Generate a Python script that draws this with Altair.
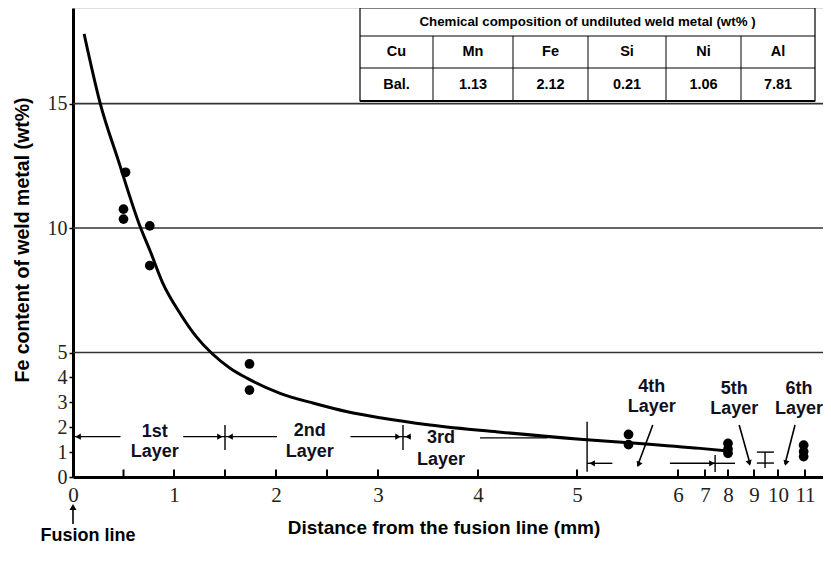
import altair as alt
import pandas as pd

# ---------------- data ----------------
pt_x = [0.52, 0.50, 0.50, 0.76, 0.76, 1.74, 1.74, 5.51, 5.51, 8.0, 8.0, 8.0, 10.95, 10.95, 10.95]
pt_y = [12.24, 10.76, 10.36, 10.09, 8.49, 4.54, 3.49, 1.71, 1.30, 1.35, 1.12, 0.95, 1.28, 1.02, 0.82]

curve_x = [0.11, 0.27, 0.45, 0.67, 0.76, 0.89, 1.06, 1.22, 1.37, 1.55, 1.72, 2.04, 2.37,
           2.70, 3.02, 3.52, 4.23, 5.03, 5.62, 6.82, 8.0]
curve_y = [17.8, 15.0, 12.7, 10.0, 9.12, 7.78, 6.57, 5.63, 4.97, 4.37, 3.96, 3.36, 2.96,
           2.62, 2.38, 2.09, 1.80, 1.52, 1.35, 1.15, 1.04]

x_tick_values = [0, 1, 2, 3, 4, 5, 6, 7, 8, 9, 10, 11]
x_tick_marks = [0.5, 1, 1.5, 2, 2.5, 3, 4, 5, 6, 7, 8, 9, 10, 11]
y_tick_values = [0, 1, 2, 3, 4, 5, 10, 15]
grid_values = [5, 10, 15]

table_title = "Chemical composition of undiluted weld metal (wt% )"
elements = ["Cu", "Mn", "Fe", "Si", "Ni", "Al"]
contents = ["Bal.", "1.13", "2.12", "0.21", "1.06", "7.81"]

layer_names = ["1st", "2nd", "3rd", "4th", "5th", "6th"]

# ---------------- scales / axes ----------------
W, H = 750, 469
xscale = alt.Scale(domain=[0, 1, 2, 3, 4, 5, 6, 7, 8, 9, 10, 11, 12],
                   range=[0, 101, 203, 305, 405, 504, 605, 632, 655, 681, 705, 732, 750],
                   nice=False, zero=False)
yscale = alt.Scale(domain=[0, 18.84], nice=False, zero=False)

xaxis = alt.Axis(values=x_tick_values, title=None, ticks=False, grid=False,
                 domainWidth=3, domainColor="black", labelFont="Liberation Serif",
                 labelFontSize=21, labelColor="#222", labelPadding=7,
                 labelFlush=False, labelOverlap=False)
yaxis = alt.Axis(values=y_tick_values, title=None, grid=False, tickSize=4, tickWidth=1.5,
                 tickColor="black", domainWidth=3, domainColor="black",
                 labelFont="Liberation Serif", labelFontSize=20, labelColor="#222",
                 labelPadding=2, labelOverlap=False, labelFlush=False)


def X(f):
    return alt.X(f, type="quantitative", scale=xscale, axis=xaxis)


def Y(f):
    return alt.Y(f, type="quantitative", scale=yscale, axis=yaxis)


layers = []

# grid lines
layers.append(alt.Chart(pd.DataFrame({"g": grid_values})).mark_rule(
    color="#333", strokeWidth=1.6).encode(y=Y("g")))

# tick marks pointing inwards
layers.append(alt.Chart(pd.DataFrame({"t": x_tick_marks, "y0": [0] * len(x_tick_marks),
                                      "y1": [0.3] * len(x_tick_marks)})).mark_rule(
    color="black", strokeWidth=2).encode(x=X("t"), y=Y("y0"), y2="y1"))

# fitted curve
layers.append(alt.Chart(pd.DataFrame({"x": curve_x, "y": curve_y})).mark_line(
    color="black", strokeWidth=3, interpolate="monotone").encode(x=X("x"), y=Y("y")))

# measured points
layers.append(alt.Chart(pd.DataFrame({"x": pt_x, "y": pt_y})).mark_point(
    filled=True, color="black", size=95, opacity=1).encode(x=X("x"), y=Y("y")))

# ---------------- layer annotations ----------------
hseg = pd.DataFrame({
    "x": [0, 1.09, 1.5, 2.73, 3.25, 4.02, 5.1, 5.92, 7.44, 9.12, 9.12],
    "x2": [0.47, 1.5, 2.01, 3.25, 3.33, 4.7, 5.35, 7.44, 8.27, 9.83, 9.83],
    "y": [1.62, 1.62, 1.62, 1.62, 1.62, 1.57, 0.55, 0.55, 0.55, 1.0, 0.56],
})
layers.append(alt.Chart(hseg).mark_rule(color="black", strokeWidth=1.4).encode(
    x=X("x"), x2="x2", y=Y("y")))

vseg = pd.DataFrame({
    "x": [1.5, 3.25, 5.1, 7.44, 9.46],
    "y": [1.08, 1.08, 0.21, 0.2, 0.36],
    "y2": [2.09, 2.09, 2.22, 0.88, 1.0],
})
layers.append(alt.Chart(vseg).mark_rule(color="black", strokeWidth=1.4).encode(
    x=X("x"), y=Y("y"), y2="y2"))

dseg = pd.DataFrame({
    "x": [5.75, 8.43, 10.63], "y": [2.09, 2.09, 2.09],
    "x2": [5.6, 8.85, 10.26], "y2": [0.45, 0.52, 0.52],
})
layers.append(alt.Chart(dseg).mark_rule(color="black", strokeWidth=1.6).encode(
    x=X("x"), y=Y("y"), x2="x2", y2="y2"))

heads = pd.DataFrame({
    "x": [0.05, 1.45, 1.55, 3.20, 3.30, 5.15, 7.30, 5.61, 8.82, 10.29],
    "y": [1.62, 1.62, 1.62, 1.62, 1.62, 0.55, 0.55, 0.50, 0.56, 0.56],
    "a": [270, 90, 270, 90, 270, 270, 90, 201, 165, 194],
})
layers.append(alt.Chart(heads).mark_point(
    shape="triangle-up", filled=True, color="black", size=40, opacity=1).encode(
    x=X("x"), y=Y("y"), angle=alt.Angle("a:Q", scale=None)))

lab = pd.DataFrame({
    "x": [0.81, 0.81, 2.33, 2.33, 3.63, 3.63, 5.74, 5.74, 8.24, 8.24, 10.78, 10.78],
    "y": [1.81, 1.0, 1.86, 1.02, 1.57, 0.68, 3.61, 2.81, 3.53, 2.73, 3.53, 2.73],
    "t": [v for n in layer_names for v in (n, "Layer")],
})
layers.append(alt.Chart(lab).mark_text(
    font="Liberation Sans", fontWeight="bold", fontSize=18, color="#10101e",
    baseline="middle").encode(x=X("x"), y=Y("y"), text="t:N"))

# ---------------- axis titles & fusion line ----------------
one = pd.DataFrame({"a": [0]})
layers.append(alt.Chart(one).mark_text(
    text="Fe content of weld metal (wt%)", angle=270, font="Liberation Sans",
    fontWeight="bold", fontSize=19.5, color="black", baseline="middle").encode(
    x=alt.value(-50), y=alt.value(232)))
layers.append(alt.Chart(one).mark_text(
    text="Distance from the fusion line (mm)", font="Liberation Sans",
    fontWeight="bold", fontSize=19, color="black", baseline="middle").encode(
    x=alt.value(371), y=alt.value(520)))
layers.append(alt.Chart(one).mark_text(
    text="Fusion line", font="Liberation Sans", fontWeight="bold", fontSize=18,
    color="black", baseline="middle").encode(x=alt.value(15), y=alt.value(528)))
layers.append(alt.Chart(one).mark_rule(color="black", strokeWidth=1.6).encode(
    x=alt.value(0), y=alt.value(516), y2=alt.value(499)))
layers.append(alt.Chart(one).mark_point(
    shape="triangle-up", filled=True, color="black", size=50, opacity=1).encode(
    x=alt.value(0), y=alt.value(499)))

# ---------------- composition table ----------------
col_edges = [287, 360, 440, 515, 593, 668, 742]
row_edges = [0, 28, 60, 93]
layers.append(alt.Chart(one).mark_rect(color="white", stroke="black", strokeWidth=1.2).encode(
    x=alt.value(col_edges[0]), x2=alt.value(col_edges[-1]),
    y=alt.value(row_edges[0]), y2=alt.value(row_edges[-1])))
for ry in row_edges[1:3]:
    layers.append(alt.Chart(one).mark_rule(color="black", strokeWidth=1).encode(
        x=alt.value(col_edges[0]), x2=alt.value(col_edges[-1]), y=alt.value(ry)))
layers.append(alt.Chart(one).mark_rule(color="black", strokeWidth=2.2).encode(
    x=alt.value(col_edges[0]), x2=alt.value(col_edges[-1]), y=alt.value(row_edges[-1])))
for cx in col_edges[1:-1]:
    layers.append(alt.Chart(one).mark_rule(color="black", strokeWidth=1).encode(
        x=alt.value(cx), y=alt.value(row_edges[1]), y2=alt.value(row_edges[-1])))
layers.append(alt.Chart(one).mark_text(
    text=table_title, font="Liberation Sans", fontWeight="bold", fontSize=13.3,
    color="black", baseline="middle").encode(
    x=alt.value((col_edges[0] + col_edges[-1]) / 2), y=alt.value((row_edges[0] + row_edges[1]) / 2)))
for i in range(len(elements)):
    cxm = (col_edges[i] + col_edges[i + 1]) / 2
    for r, txt in ((1, elements[i]), (2, contents[i])):
        layers.append(alt.Chart(one).mark_text(
            text=txt, font="Liberation Sans", fontWeight="bold", fontSize=14.5,
            color="black", baseline="middle").encode(
            x=alt.value(cxm), y=alt.value((row_edges[r] + row_edges[r + 1]) / 2)))

chart = alt.layer(*layers).properties(
    width=W, height=H,
    autosize=alt.AutoSizeParams(type="none"),
    padding={"left": 65, "top": 0, "right": 0, "bottom": 70},
).configure_view(stroke=None).configure(background="white")

chart.save("out.html", embed_options={"renderer": "svg", "actions": False})
